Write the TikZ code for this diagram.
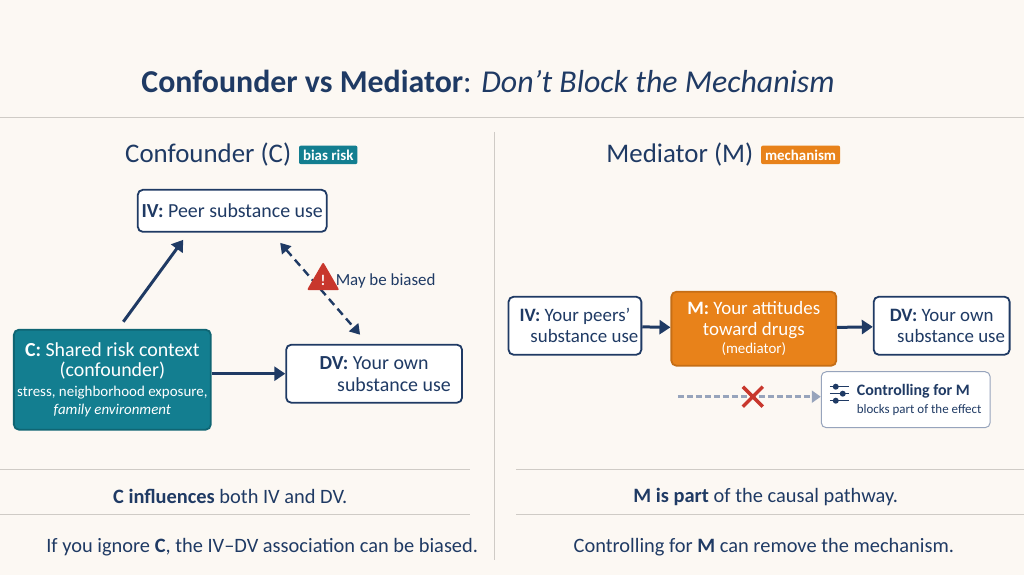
\documentclass[tikz,border=0pt]{standalone}
\usepackage{fontspec}
\setmainfont{Carlito}
\usepackage{tikz}
\usetikzlibrary{arrows.meta, positioning, shapes.geometric}
\definecolor{paper}{HTML}{FCF8F3}
\definecolor{navy}{HTML}{1F3A64}
\definecolor{teal}{HTML}{137E90}
\definecolor{orng}{HTML}{E8821A}
\definecolor{rule}{HTML}{CFCBC6}
\definecolor{warn}{HTML}{C8372D}
\definecolor{mist}{HTML}{97A4BC}

\begin{document}
\begin{tikzpicture}[
    x=1bp, y=-1bp,
    box/.style={rectangle, rounded corners=5bp, draw=navy, line width=1.8bp, fill=white, text=navy, align=center, inner sep=3bp},
    badge/.style={rectangle, rounded corners=2bp, text=white, font=\fontsize{15}{16}\selectfont\bfseries, inner sep=4bp},
    arrow/.style={-{Triangle[length=11bp,width=14bp]}, navy, line width=3bp},
    sep/.style={rule, line width=0.8bp},
    heading/.style={text=navy, font=\fontsize{27}{29}\selectfont},
    note/.style={text=navy, font=\fontsize{20.5}{22}\selectfont}
    ]
    \fill[paper] (0,0) rectangle (1024,575);

    % Title and frame lines
    \node (title) at (488,82) [text=navy, font=\fontsize{32}{34}\selectfont] {\textbf{Confounder vs Mediator}: \textit{Don’t Block the Mechanism}};
    \draw[sep] (0,117) -- (1024,117);
    \draw[sep] (494,132) -- (494,560);
    \draw[sep] (0,470) -- (470,470);
    \draw[sep] (0,515) -- (470,515);
    \draw[sep] (516,470) -- (1024,470);
    \draw[sep] (516,515) -- (1024,515);

    % Confounder side
    \node (lhead) at (208,155) [heading] {Confounder (C)};
    \node (biasrisk) [badge, fill=teal, right=4bp of lhead] {bias risk};
    \node (iv1) at (232,211) [box, minimum width=189bp, minimum height=42bp, font=\fontsize{20}{22}\selectfont] {\textbf{IV:} Peer substance use};
    \node (conf) at (112,380) [box, draw=teal!80!black, fill=teal, text=white, minimum width=197bp, minimum height=100bp, font=\fontsize{20}{21}\selectfont]
        {\textbf{C:} Shared risk context\\(confounder)\\[-1bp]{\fontsize{15}{16}\selectfont stress, neighborhood exposure,}\\[-3bp]{\fontsize{15}{16}\selectfont\itshape family environment}};
    \node (dv1) at (374,374) [box, minimum width=176bp, minimum height=58bp, font=\fontsize{20}{22}\selectfont] {\textbf{DV:} Your own\\\hspace*{2em}substance use};
    \coordinate (cup) at (123,322);
    \coordinate (ivlow) at (183,240);
    \coordinate (ivright) at (280,243);
    \coordinate (dvtop) at (360,335);
    \draw[arrow] (cup) -- (ivlow);
    \draw[arrow] (conf.east |- dv1) -- (dv1.west);
    \draw[navy, line width=2.4bp, dash pattern=on 8bp off 5bp, {Triangle[length=10bp,width=12bp]}-{Triangle[length=10bp,width=12bp]}] (ivright) -- (dvtop);
    \node (warnsign) at (323,281) [regular polygon, regular polygon sides=3, fill=warn, rounded corners=2bp, inner sep=1.5bp, text=white, font=\bfseries\fontsize{15}{15}\selectfont] {!};
    \node (biased) [right=-2bp of warnsign, text=navy, font=\fontsize{17}{19}\selectfont] {May be biased};
    \node (lnote1) at (230,497) [note] {\textbf{C influences} both IV and DV.};
    \node (lnote2) at (262,548) [note] {If you ignore \textbf{C}, the IV--DV association can be biased.};

    % Mediator side
    \node (rhead) at (680,155) [heading] {Mediator (M)};
    \node (mechbadge) [badge, fill=orng, right=4bp of rhead] {mechanism};
    \node (iv2) at (575,326) [box, minimum width=131bp, minimum height=58bp, font=\fontsize{19}{21}\selectfont] {\textbf{IV:} Your peers’\\\hspace*{1em}substance use};
    \node (med) at (754,329) [box, draw=orng!85!black, fill=orng, text=white, minimum width=165bp, minimum height=74bp, font=\fontsize{19}{21}\selectfont] {\textbf{M:} Your attitudes\\toward drugs\\[-3bp]{\fontsize{15}{16}\selectfont(mediator)}};
    \node (dv2) at (942,326) [box, minimum width=136bp, minimum height=58bp, font=\fontsize{19}{21}\selectfont] {\textbf{DV:} Your own\\\hspace*{1em}substance use};
    \draw[arrow] (iv2) -- (med);
    \draw[arrow] (med) -- (dv2);
    \node (ctrl) at (906,400) [box, draw=mist, line width=1bp, minimum width=169bp, minimum height=56bp, align=left, font=\fontsize{16}{18}\selectfont]
        {\hspace*{27bp}\textbf{Controlling for M}\\\hspace*{27bp}{\fontsize{13}{15}\selectfont blocks part of the effect}};
    \coordinate (pathstart) at (678,397);
    \draw[mist, line width=3bp, dash pattern=on 6bp off 3bp, -{Triangle[length=9bp,width=12bp]}] (pathstart) -- (ctrl.west |- pathstart);
    \node (cross) at (753,397) [text=warn] {};
    \draw[warn, line width=3.4bp] ([shift={(-10,-10)}]cross.center) -- ([shift={(10,10)}]cross.center)
        ([shift={(-10,10)}]cross.center) -- ([shift={(10,-10)}]cross.center);
    % slider icon
    \foreach \yy/\xx in {387/836,394/843,401/836} {
        \draw[navy, line width=1.6bp] (830,\yy) -- (849,\yy);
        \fill[navy] (\xx,\yy) circle (3bp);
    }
    \node (rnote1) at (766,497) [note] {\textbf{M is part} of the causal pathway.};
    \node (rnote2) at (764,548) [note] {Controlling for \textbf{M} can remove the mechanism.};
\end{tikzpicture}
\end{document}
